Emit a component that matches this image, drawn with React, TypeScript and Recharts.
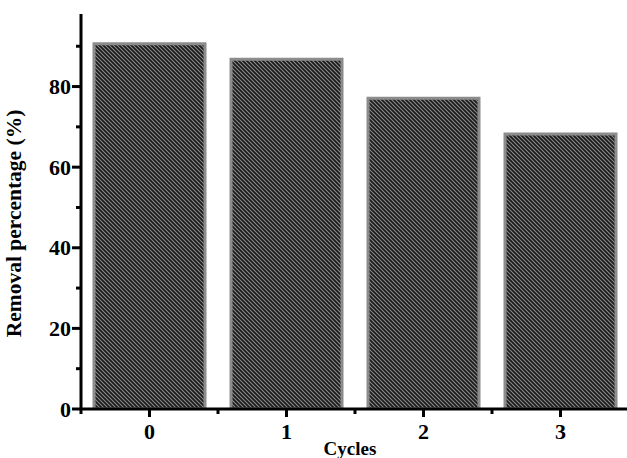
import { BarChart, Bar, XAxis, YAxis } from 'recharts';

const cycles = ['0', '1', '2', '3'];
const removal = [90.6, 86.8, 77.1, 68.2];
const yTicks = [0, 10, 20, 30, 40, 50, 60, 70, 80, 90];

const data = cycles.map((c, i) => ({ cycle: c, removal: removal[i] }));

const FONT = '"Liberation Serif", "Times New Roman", serif';

// y ticks: labels every 20, short minor ticks between
const YTick = (props: any) => {
    const { x, y, payload } = props;
    const major = payload.value % 20 === 0;
    return (
        <g>
            <line x1={x - (major ? 9 : 5)} x2={x} y1={y} y2={y} stroke="#000" strokeWidth={3} />
            {major && (
                <text x={x - 10} y={y} dy="0.35em" textAnchor="end" fontFamily={FONT} fontWeight="bold" fontSize={22} fill="#000">
                    {payload.value}
                </text>
            )}
        </g>
    );
};

// x ticks: major at category centre, minor at band edge
const XTick = (props: any) => {
    const { x, y, payload } = props;
    const half = payload.offset || 0;
    return (
        <g>
            <line x1={x} x2={x} y1={y} y2={y + 8} stroke="#000" strokeWidth={3} />
            <line x1={x - half} x2={x - half} y1={y} y2={y + 5} stroke="#000" strokeWidth={3} />
            <text x={x} y={y + 30} textAnchor="middle" fontFamily={FONT} fontWeight="bold" fontSize={22} fill="#000">
                {payload.value}
            </text>
        </g>
    );
};

export default function App() {
    return (
        <div style={{ position: 'fixed', left: 0, top: 0, width: 627, height: 458, overflow: 'hidden', background: '#fff' }}>
            <BarChart width={640} height={458} data={data} margin={{ top: 14, right: 11, left: 0, bottom: 0 }} barCategoryGap="9.5%">
                <defs>
                    <pattern id="hatch" patternUnits="userSpaceOnUse" width="4" height="4">
                        <rect width="4" height="4" fill="#1a1a1a" />
                        <path d="M-1,-1 L5,5 M-1,3 L1,5 M3,-1 L5,1" stroke="#8a8a8a" strokeWidth={1.1} />
                    </pattern>
                </defs>
                <XAxis
                    dataKey="cycle"
                    height={49}
                    axisLine={{ stroke: '#000', strokeWidth: 3 }}
                    tickLine={false}
                    tickSize={0}
                    tickMargin={0}
                    tick={<XTick />}
                    label={{ value: 'Cycles', position: 'insideBottom', offset: 3, dx: -5, fontFamily: FONT, fontWeight: 'bold', fontSize: 19, fill: '#000' }}
                />
                <XAxis
                    xAxisId="top"
                    dataKey="cycle"
                    orientation="top"
                    mirror
                    height={0}
                    axisLine={{ stroke: '#000', strokeWidth: 3 }}
                    tickSize={3}
                    tickLine={{ stroke: '#000', strokeWidth: 2 }}
                    tick={false}
                />
                <YAxis
                    width={81}
                    domain={[0, 98]}
                    ticks={yTicks}
                    interval={0}
                    allowDataOverflow
                    axisLine={{ stroke: '#000', strokeWidth: 3 }}
                    tickLine={false}
                    tickSize={0}
                    tickMargin={0}
                    tick={<YTick />}
                    label={{ value: 'Removal percentage (%)', angle: -90, position: 'insideLeft', offset: 18, dx: -5, dy: 12, style: { textAnchor: 'middle' }, fontFamily: FONT, fontWeight: 'bold', fontSize: 21.5, fill: '#000' }}
                />
                <Bar dataKey="removal" fill="url(#hatch)" stroke="#8c8c8c" strokeWidth={3} isAnimationActive={false} />
            </BarChart>
        </div>
    );
}
